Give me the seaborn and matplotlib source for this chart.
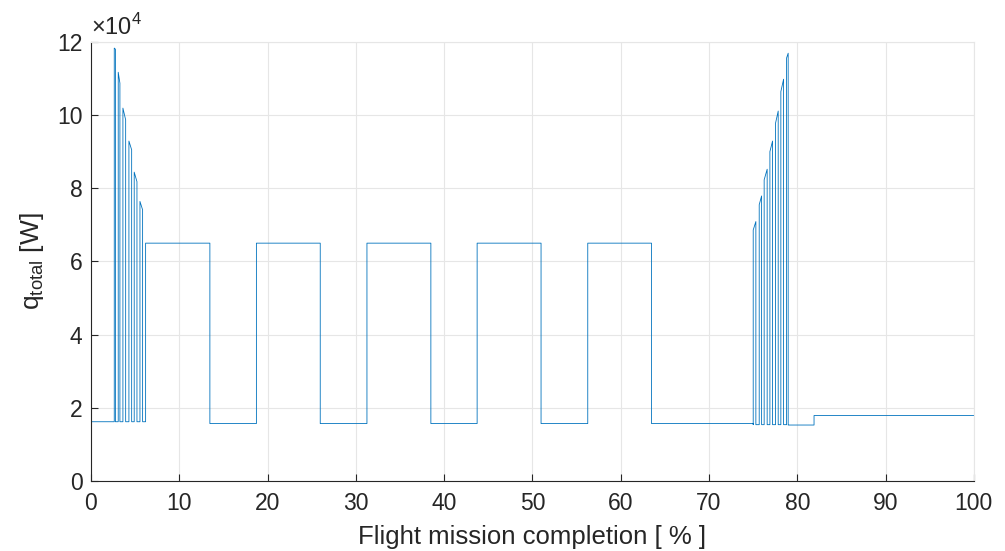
import numpy as np
import pandas as pd
import matplotlib
matplotlib.use("Agg")
import matplotlib.pyplot as plt
import seaborn as sns
from matplotlib.ticker import FuncFormatter

# ---- heat load profile over the flight mission ----
# take-off pulses: start/end [% mission], top value at start/end [W]
takeoff_start = [2.64, 3.09, 3.62, 4.30, 4.90, 5.55]
takeoff_end = [2.77, 3.28, 3.93, 4.61, 5.21, 5.85]
takeoff_top_start = [118300, 111700, 101900, 92900, 84400, 76400]
takeoff_top_end = [118000, 108700, 98700, 90500, 81800, 74100]
takeoff_base = 16200

# cruise: alternating high/low segments between these edges
cruise_edges = [6.19, 13.47, 18.74, 25.97, 31.26, 38.50, 43.74, 50.98, 56.27, 63.49, 75.01]
cruise_levels = [65000, 15700, 65000, 15700, 65000, 15700, 65000, 15700, 65000, 15700]

# landing pulses
landing_start = [75.01, 75.69, 76.25, 76.90, 77.54, 78.14, 78.79]
landing_end = [75.31, 75.96, 76.59, 77.20, 77.84, 78.45, 78.97]
landing_top_start = [68600, 75500, 82300, 90000, 97800, 106400, 115600]
landing_top_end = [70900, 77900, 85200, 92900, 101100, 109800, 116900]
landing_base = 15400

# taxi-in
taxi_switch = 81.9
taxi_low = 15300
taxi_high = 17900

# ---- assemble the polyline ----
xs, ys = [0.0], [takeoff_base]
for s, e, ts, te in zip(takeoff_start, takeoff_end, takeoff_top_start, takeoff_top_end):
    xs += [s, s, e, e]
    ys += [takeoff_base, ts, te, takeoff_base]
xs.append(cruise_edges[0]); ys.append(takeoff_base)
for i, lvl in enumerate(cruise_levels):
    xs += [cruise_edges[i], cruise_edges[i + 1]]
    ys += [lvl, lvl]
for s, e, ts, te in zip(landing_start, landing_end, landing_top_start, landing_top_end):
    xs += [s, s, e, e]
    ys += [landing_base, ts, te, landing_base]
xs += [landing_end[-1], taxi_switch, taxi_switch, 100.0]
ys += [taxi_low, taxi_low, taxi_high, taxi_high]

df = pd.DataFrame({"completion": xs, "q_total": ys})

sns.set_theme(style="white")
plt.rcParams["font.family"] = ["Liberation Sans", "DejaVu Sans"]

fig = plt.figure(figsize=(10.05, 5.51), dpi=100)
ax = fig.add_axes([0.0905, 0.127, 0.8785, 0.797])

sns.lineplot(data=df, x="completion", y="q_total", sort=False, estimator=None,
             color="#0072BD", linewidth=0.6, ax=ax)

ax.set_xlim(0, 100)
ax.set_ylim(0, 120000)
ax.set_xticks(np.arange(0, 101, 10))
ax.set_yticks(np.arange(0, 120001, 20000))
ax.yaxis.set_major_formatter(FuncFormatter(lambda v, p: f"{v/1e4:g}"))

ax.grid(True, color="#e6e6e6", linewidth=0.8)
ax.set_axisbelow(True)
for sp in ax.spines.values():
    sp.set_color("#262626")
    sp.set_linewidth(0.8)
ax.spines["top"].set_color("#e6e6e6")
ax.spines["right"].set_color("#e6e6e6")
ax.tick_params(axis="both", direction="in", length=5, width=0.8, colors="#262626",
               labelsize=16.5, pad=6, bottom=True, left=True)
ax.tick_params(axis="x", pad=8)

ax.set_xlabel("Flight mission completion [ % ]", fontsize=18.5, color="#262626", labelpad=7)
ax.set_ylabel("q$_{\\mathregular{total}}$ [W]", fontsize=19, color="#262626", labelpad=8)
ax.text(0.0, 1.004, "×10$^{\\mathregular{4}}$", transform=ax.transAxes, fontsize=17,
        color="#262626", ha="left", va="bottom")

fig.savefig("out.png", dpi=100)
